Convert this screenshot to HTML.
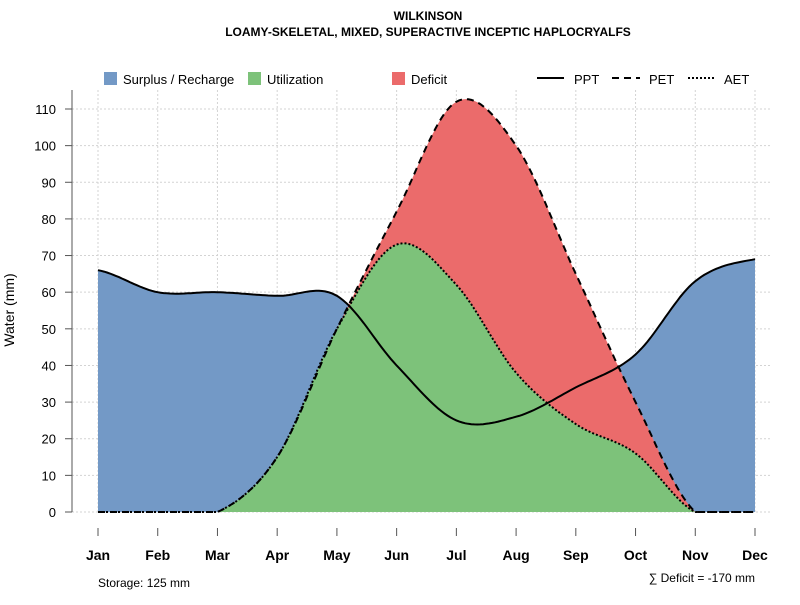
<!DOCTYPE html>
<html><head><meta charset="utf-8"><style>
body{margin:0;background:#fff;font-family:"Liberation Sans",sans-serif}
svg text{font-family:"Liberation Sans",sans-serif}
</style></head><body>
<svg width="800" height="600" xmlns="http://www.w3.org/2000/svg">
<g id="grid"></g>
<g id="areas"></g>
<g id="lines"></g>
<g id="axes"></g>
<text x="428" y="20" text-anchor="middle" font-size="12" font-weight="bold">WILKINSON</text>
<text x="428" y="36" text-anchor="middle" font-size="12" font-weight="bold">LOAMY-SKELETAL, MIXED, SUPERACTIVE INCEPTIC HAPLOCRYALFS</text>
<text transform="translate(14,310) rotate(-90)" text-anchor="middle" font-size="14">Water (mm)</text>
<text x="98" y="587" font-size="12">Storage: 125 mm</text>
<text x="755" y="582" text-anchor="end" font-size="12">∑ Deficit = -170 mm</text>
<g font-size="13">
<rect x="104" y="72" width="13" height="13" fill="#7399C6"/>
<text x="123" y="84">Surplus / Recharge</text>
<rect x="248" y="72" width="13" height="13" fill="#7DC27A"/>
<text x="267" y="84">Utilization</text>
<rect x="392" y="72" width="13" height="13" fill="#EB6B6B"/>
<text x="411" y="84">Deficit</text>
<line x1="537" y1="78" x2="564" y2="78" stroke="#000" stroke-width="2"/>
<text x="574" y="84">PPT</text>
<line x1="612" y1="78" x2="640" y2="78" stroke="#000" stroke-width="2" stroke-dasharray="7,5"/>
<text x="649" y="84">PET</text>
<line x1="688" y1="78" x2="715" y2="78" stroke="#000" stroke-width="2" stroke-dasharray="2,2"/>
<text x="724" y="84">AET</text>
</g>
</svg>
<script>
const months=["Jan","Feb","Mar","Apr","May","Jun","Jul","Aug","Sep","Oct","Nov","Dec"];
const ppt=[66,60,60,59,59,40,25,26,34,43,63,69];
const pet=[0,0,0,15,50,82,112,100,65,30,0,0];
const aet=[0,0,0,15,50,73,62,38,24,16,0,0];
const yTicks=[0,10,20,30,40,50,60,70,80,90,100,110];
const NS="http://www.w3.org/2000/svg";
const X=i=>98+i*(755-98)/11;
const Y=v=>512-v*(512-109)/110;
function el(p,t,a){const e=document.createElementNS(NS,t);for(const k in a)e.setAttribute(k,a[k]);p.appendChild(e);return e;}
function spline(vals){
  const N=20;const pts=[];
  for(let i=0;i<vals.length-1;i++){
    const p0=vals[Math.max(i-1,0)],p1=vals[i],p2=vals[i+1],p3=vals[Math.min(i+2,vals.length-1)];
    for(let s=0;s<N;s++){const t=s/N;
      const v=0.5*((2*p1)+(-p0+p2)*t+(2*p0-5*p1+4*p2-p3)*t*t+(-p0+3*p1-3*p2+p3)*t*t*t);
      pts.push([X(i+t),Y(Math.max(0,v))]);}
  }
  pts.push([X(vals.length-1),Y(vals[vals.length-1])]);
  return pts;
}
const grid=document.getElementById('grid'),areas=document.getElementById('areas'),lines=document.getElementById('lines'),axes=document.getElementById('axes');
yTicks.forEach(v=>{
  const g=el(grid,'line',{x1:72,x2:770,y1:Y(v),y2:Y(v),stroke:'#d3d3d3','stroke-dasharray':'2,2'});
  
  const t=el(axes,'line',{x1:65,x2:72,y1:Y(v),y2:Y(v),stroke:'#555'});
  
  const l=el(axes,'text',{x:56,y:Y(v)+5,'text-anchor':'end','font-size':13});l.textContent=v;
  
});
months.forEach((m,i)=>{
  const g=el(grid,'line',{x1:X(i),x2:X(i),y1:90,y2:512,stroke:'#d3d3d3','stroke-dasharray':'2,2'});
  
  const t=el(axes,'line',{x1:X(i),x2:X(i),y1:528,y2:536,stroke:'#555'});
  
  const l=el(axes,'text',{x:X(i),y:560,'text-anchor':'middle','font-size':14,'font-weight':'bold'});l.textContent=m;
  
});
const ax=el(axes,'line',{x1:72,x2:72,y1:90,y2:512,stroke:'#555'});

function area(pts,fill,name){
  const d='M'+X(0)+','+Y(0)+' '+pts.map(p=>'L'+p[0].toFixed(1)+','+p[1].toFixed(1)).join(' ')+' L'+X(11)+','+Y(0)+'Z';
  const a=el(areas,'path',{d,fill});
}
function line(pts,dash,name){
  const d='M'+pts.map(p=>p[0].toFixed(1)+','+p[1].toFixed(1)).join(' L');
  const a=el(lines,'path',{d,fill:'none',stroke:'#000','stroke-width':2,'stroke-dasharray':dash});
  
}
const P=spline(ppt),E=spline(pet),A=spline(aet);
area(P,'#7399C6','surplus-area');
area(E,'#EB6B6B','deficit-area');
area(A,'#7DC27A','utilization-area');
line(P,'none','ppt-line');
line(E,'7,5','pet-line');
line(A,'2,2','aet-line');
</script>
</body></html>
